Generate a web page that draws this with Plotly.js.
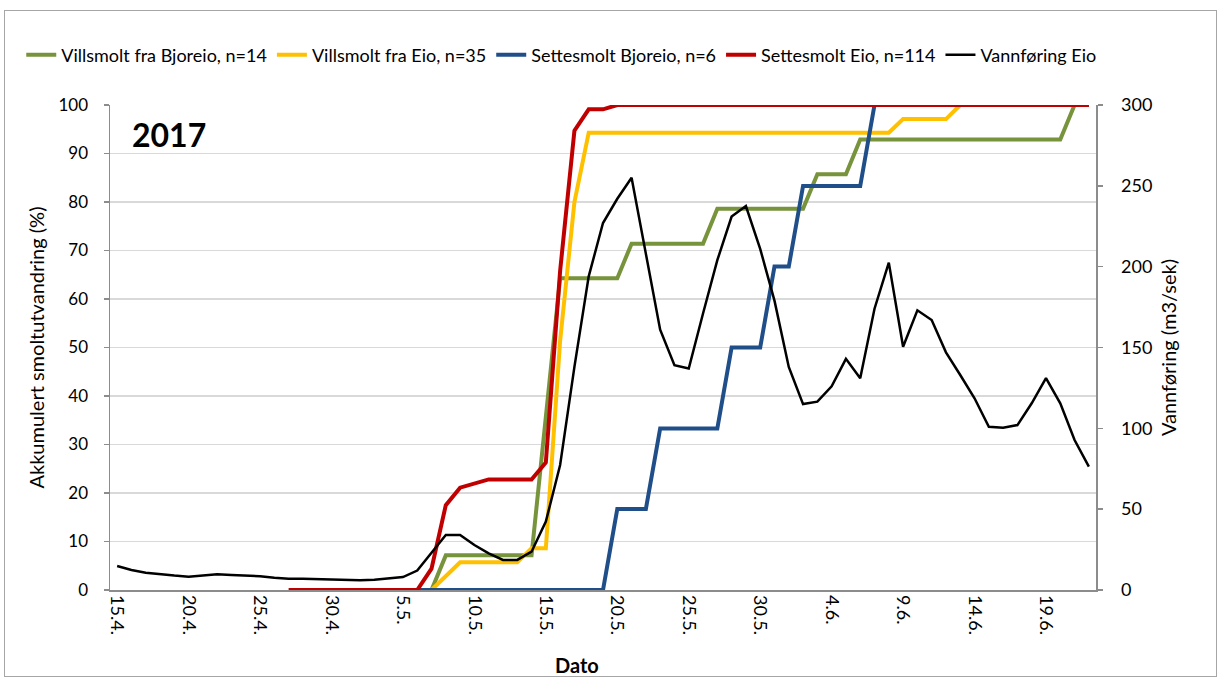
<!DOCTYPE html>
<html>
<head>
<meta charset="utf-8">
<script src="https://cdn.plot.ly/plotly-3.0.1.min.js"></script>
<style>
  html, body { margin: 0; padding: 0; background: #ffffff; }
  #frame { position: absolute; left: 4px; top: 10px; width: 1211px; height: 665px; border: 1.5px solid #a6a6a6; pointer-events: none; z-index: 5; }
  #chart { position: absolute; left: 0; top: 0; width: 1220px; height: 677px; }
</style>
</head>
<body>
<div id="chart"></div>
<div id="frame"></div>
<script>
// Dates (15.4. - 22.6.2017)
const dates = [
  "15.4.","16.4.","17.4.","18.4.","19.4.","20.4.","21.4.","22.4.","23.4.","24.4.",
  "25.4.","26.4.","27.4.","28.4.","29.4.","30.4.",
  "1.5.","2.5.","3.5.","4.5.","5.5.","6.5.","7.5.","8.5.","9.5.","10.5.",
  "11.5.","12.5.","13.5.","14.5.","15.5.","16.5.","17.5.","18.5.","19.5.","20.5.",
  "21.5.","22.5.","23.5.","24.5.","25.5.","26.5.","27.5.","28.5.","29.5.","30.5.","31.5.",
  "1.6.","2.6.","3.6.","4.6.","5.6.","6.6.","7.6.","8.6.","9.6.","10.6.",
  "11.6.","12.6.","13.6.","14.6.","15.6.","16.6.","17.6.","18.6.","19.6.","20.6.","21.6.","22.6."
];
// Tick labels shown on the axis (every 5th day)
const tickLabels = ["15.4.","20.4.","25.4.","30.4.","5.5.","10.5.","15.5.","20.5.","25.5.","30.5.","4.6.","9.6.","14.6.","19.6."];

const N = null;
// Akkumulert smoltutvandring (%)
const villBjoreio = [
  N,N,N,N,N,N,N,N,N,N, N,N,N,N,N,N,N,N,N,N, N,N,
  0, 7.14,7.14,7.14,7.14,7.14,7.14,7.14, 35.7,
  64.3,64.3,64.3,64.3,64.3,
  71.4,71.4,71.4,71.4,71.4,71.4,
  78.6,78.6,78.6,78.6,78.6,78.6,78.6,
  85.7,85.7,85.7,
  92.9,92.9,92.9,92.9,92.9,92.9,92.9,92.9,92.9,92.9,92.9,92.9,92.9,92.9,92.9,
  100
];
const villEio = [
  N,N,N,N,N,N,N,N,N,N, N,N,N,N,N,N,N,N,N,N, N,N,
  0, 2.9, 5.7,5.7,5.7,5.7,5.7, 8.6,8.6, 51.4, 80.0,
  94.3,94.3,94.3,94.3,94.3,94.3,94.3,94.3,94.3,94.3,94.3,94.3,94.3,94.3,94.3,94.3,94.3,94.3,94.3,94.3,94.3,94.3,
  97.1,97.1,97.1,97.1,
  100,100,100,100,100,100,100,100,100,100
];
const setteBjoreio = [
  N,N,N,N,N,N,N,N,N,N, N,N,N,N,N,N,N,N,N,N, N,
  0,0,0,0,0,0,0,0,0,0,0,0,0,0,
  16.7,16.7,16.7,
  33.3,33.3,33.3,33.3,33.3,
  50,50,50,
  66.7,66.7,
  83.3,83.3,83.3,83.3,83.3,
  100,100,100,100,100,100,100,100,100,100,100,100,100,100,100,100
];
const setteEio = [
  N,N,N,N,N,N,N,N,N,N, N,N,
  0,0,0,0,0,0,0,0,0,0,
  4.4, 17.5, 21.1, 21.9, 22.8,22.8,22.8,22.8, 26.3, 65.8, 94.7, 99.1, 99.1,
  100,100,100,100,100,100,100,100,100,100,100,100,100,100,100,100,100,
  100,100,100,100,100,100,100,100,100,100,100,100,100,100,100,100,100,100
];
// Vannføring Eio (m3/sek)
const vannforing = [
  14.8,12.4,10.7,9.7,8.9,8.2,9.1,9.7,9.3,9.1,
  8.5,7.6,7.0,7.0,6.8,6.6,6.2,6.0,6.4,7.0,
  8.0,12.0,22.7,34,34,27.8,22.7,18.6,18.6,23.7,
  42.3,77.3,138,194,227,242,255,208,161,139,
  137,171,204,231,237.5,211,179,138,115,116.5,
  126,143,131,174,202.5,150.5,173,167,147,133,
  118.6,101,100.4,102,115.5,131,115.5,92.8,76.3
];

const FONT = "Lato, 'Open Sans', sans-serif";
const traces = [
  {x: dates, y: villBjoreio, name: "Villsmolt fra Bjoreio, n=14", type: "scatter", mode: "lines", line: {color: "#77933c", width: 4}},
  {x: dates, y: villEio, name: "Villsmolt fra Eio, n=35", type: "scatter", mode: "lines", line: {color: "#ffc000", width: 4}},
  {x: dates, y: setteBjoreio, name: "Settesmolt Bjoreio, n=6", type: "scatter", mode: "lines", line: {color: "#1f4e89", width: 4}},
  {x: dates, y: setteEio, name: "Settesmolt Eio, n=114", type: "scatter", mode: "lines", line: {color: "#c00000", width: 4}},
  {x: dates, y: vannforing, name: "Vannføring Eio", type: "scatter", mode: "lines", yaxis: "y2", line: {color: "#000000", width: 2.5}}
];

const layout = {
  width: 1220, height: 677,
  margin: {l: 110, r: 124, t: 105, b: 87},
  paper_bgcolor: "#ffffff", plot_bgcolor: "#ffffff",
  font: {family: FONT, size: 17, color: "#000000"},
  showlegend: true,
  legend: {orientation: "h", x: -0.09, xanchor: "left", y: 1.103, yanchor: "middle",
           font: {family: FONT, size: 18, color: "#000"}, itemwidth: 30, tracegroupgap: 0, bgcolor: "rgba(0,0,0,0)"},
  xaxis: {
    type: "category", categoryorder: "array", categoryarray: dates,
    range: [-0.5, dates.length - 0.5],
    tickmode: "array", tickvals: tickLabels, ticktext: tickLabels, tickangle: 90,
    showgrid: false, zeroline: false, showline: true, linecolor: "#8c8c8c", linewidth: 1.5,
    ticks: "", tickfont: {family: FONT, size: 18, color: "#000"}
  },
  yaxis: {
    range: [0, 100], dtick: 10, tick0: 0,
    showgrid: true, gridcolor: "#d9d9d9", gridwidth: 1.5, zeroline: false,
    showline: true, linecolor: "#8c8c8c", linewidth: 1.5,
    ticks: "outside", ticklen: 5, tickcolor: "#8c8c8c", tickwidth: 1.5,
    ticklabelstandoff: 12,
    tickfont: {family: FONT, size: 17, color: "#000"},
    title: {text: "Akkumulert smoltutvandring (%)", font: {family: FONT, size: 20, color: "#000"}, standoff: 8}
  },
  yaxis2: {
    range: [0, 300], dtick: 50, tick0: 0, overlaying: "y", side: "right",
    showgrid: false, zeroline: false,
    showline: true, linecolor: "#8c8c8c", linewidth: 1.5,
    ticks: "outside", ticklen: 5, tickcolor: "#8c8c8c", tickwidth: 1.5,
    ticklabelstandoff: 15,
    tickfont: {family: FONT, size: 18, color: "#000"},
    title: {text: "Vannføring (m3/sek)", font: {family: FONT, size: 20, color: "#000"}, standoff: 10}
  },
  annotations: [
    {text: "<b>2017</b>", xref: "paper", yref: "paper", x: 0.02, y: 0.94, xanchor: "left", yanchor: "middle",
     showarrow: false, font: {family: FONT, size: 32, color: "#000"}},
    {text: "<b>Dato</b>", xref: "paper", yref: "paper", x: 0.4736, y: -0.1546, xanchor: "center", yanchor: "middle",
     showarrow: false, font: {family: FONT, size: 20, color: "#000"}}
  ]
};

Plotly.newPlot("chart", traces, layout, {displayModeBar: false, staticPlot: true});
</script>
</body>
</html>
